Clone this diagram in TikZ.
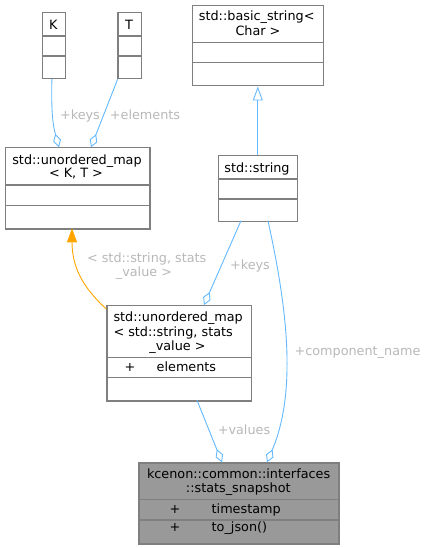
\documentclass[tikz,border=0pt]{standalone}
\usepackage{fontspec}
\setmainfont{DejaVu Sans}
\usetikzlibrary{arrows.meta}
\definecolor{boxline}{HTML}{7F7F7F}
\definecolor{edgeblue}{HTML}{63B8FF}
\definecolor{edgeorange}{HTML}{FFA500}
\definecolor{lblgray}{HTML}{B8B8B8}
\definecolor{snapfill}{HTML}{999999}
\begin{document}
\begin{tikzpicture}[x=1pt,y=-1pt,
  cls/.style={draw=boxline, line width=1.2pt, fill=white, rectangle, inner sep=0pt, anchor=north west},
  divider/.style={draw=boxline, line width=1.2pt},
  txt/.style={inner sep=0pt, anchor=base, font=\fontsize{12.8}{14.5}\selectfont},
  lbl/.style={txt, text=lblgray},
  assoc/.style={draw=edgeblue, line width=0.9pt, -{Diamond[open, length=14pt, width=8pt, line width=0.9pt]}},
  inherit/.style={draw=edgeblue, line width=0.9pt, -{Triangle[open, length=14pt, width=10pt, line width=0.9pt]}},
  tmpl/.style={draw=edgeorange, line width=0.9pt, -{Triangle[length=14pt, width=10pt, fill=edgeorange]}}
]
\useasboundingbox (0,0) rectangle (428,548);
% boxes
\node[cls, minimum width=23pt, minimum height=65.7pt] (K) at (41.7,12.3) {};
\node[cls, minimum width=23.4pt, minimum height=65.7pt] (T) at (117.3,12.3) {};
\node[cls, minimum width=144.3pt, minimum height=81pt] (M1) at (5,147.3) {};
\node[cls, minimum width=131pt, minimum height=80.3pt] (B) at (191.7,5) {};
\node[cls, minimum width=79pt, minimum height=65.7pt] (S) at (217.7,155) {};
\node[cls, minimum width=144.4pt, minimum height=95.3pt] (M2) at (106.3,305) {};
\node[cls, fill=snapfill, minimum width=200pt, minimum height=81pt] (N) at (138.3,462.3) {};
% dividers
\draw[divider] (41.7,36) -- (64.7,36) (41.7,56) -- (64.7,56);
\draw[divider] (117.3,36) -- (140.7,36) (117.3,56) -- (140.7,56);
\draw[divider] (5,185) -- (149.3,185) (5,205.3) -- (149.3,205.3);
\draw[divider] (191.7,42.7) -- (322.7,42.7) (191.7,62.7) -- (322.7,62.7);
\draw[divider] (217.7,179) -- (296.7,179) (217.7,199) -- (296.7,199);
\draw[divider] (106.3,357.7) -- (250.7,357.7) (106.3,377.7) -- (250.7,377.7);
\draw[divider] (138.3,499.3) -- (338.3,499.3) (138.3,520) -- (338.3,520);
% titles
\node[txt] (tK) at (53.2,29.3) {K};
\node[txt] (tT) at (129,29.3) {T};
\node[txt] (tM1a) at (77,164.5) {std::unordered\_map};
\node[txt] (tM1b) at (76,178) {< K, T >};
\node[txt] (tBa) at (256.7,21) {std::basic\_string<};
\node[txt] (tBb) at (258,35.5) {Char >};
\node[txt] (tS) at (257,172.3) {std::string};
\node[txt, anchor=base west] (tM2a) at (113.3,321.7) {std::unordered\_map};
\node[txt, anchor=base west] (tM2b) at (113.3,336.2) {< std::string, stats};
\node[txt] (tM2c) at (177.5,350.7) {\_value >};
\node[txt] (tM2d) at (130,371) {+};
\node[txt, anchor=base west] (tM2e) at (156.5,371) {elements};
\node[txt] (tNa) at (238.6,478.3) {kcenon::common::interfaces};
\node[txt] (tNb) at (238.3,492.7) {::stats\_snapshot};
\node[txt] (tNc) at (175,513.3) {+};
\node[txt, anchor=base west] (tNd) at (211.5,513.3) {timestamp};
\node[txt] (tNe) at (175,531.5) {+};
\node[txt, anchor=base west] (tNf) at (211.5,531.5) {to\_json()};
% connectors
\coordinate (k1) at ([xshift=-1.9pt]K.south);
\coordinate (m1a) at (59,147.3);
\draw[assoc] (k1) .. controls (51.3,105) and (52,122) .. (m1a);
\coordinate (t1) at (T.south west);
\coordinate (m1b) at (91,147.3);
\draw[assoc] ([xshift=0.3pt]t1) -- (m1b);
\draw[inherit] (S.north) -- (S.north |- B.south);
\coordinate (m2a) at (106.3,309);
\coordinate (m1c) at (72,228.3);
\draw[tmpl] (m2a) .. controls (88,292) and (72,272) .. (m1c);
\coordinate (s1) at (241,220.7);
\coordinate (m2k) at (204,305);
\draw[assoc] (s1) -- (m2k);
\coordinate (s2) at (268,220.7);
\coordinate (n1) at (267,462.3);
\draw[assoc] (s2) .. controls (283,290) and (300,385) .. (n1);
\coordinate (m2b) at (197,400.3);
\coordinate (n2) at (222,462.3);
\draw[assoc] (m2b) -- (n2);
% edge labels
\node[lbl] (lk) at (80,119.3) {+keys};
\node[lbl] (le) at (145,119.3) {+elements};
\node[lbl] (lt1) at (146.7,262.3) {< std::string, stats};
\node[lbl] (lt2) at (144,276) {\_value >};
\node[lbl] (lk2) at (250,269.3) {+keys};
\node[lbl] (lc) at (357.5,355.7) {+component\_name};
\node[lbl] (lv) at (244,434) {+values};
\end{tikzpicture}
\end{document}
